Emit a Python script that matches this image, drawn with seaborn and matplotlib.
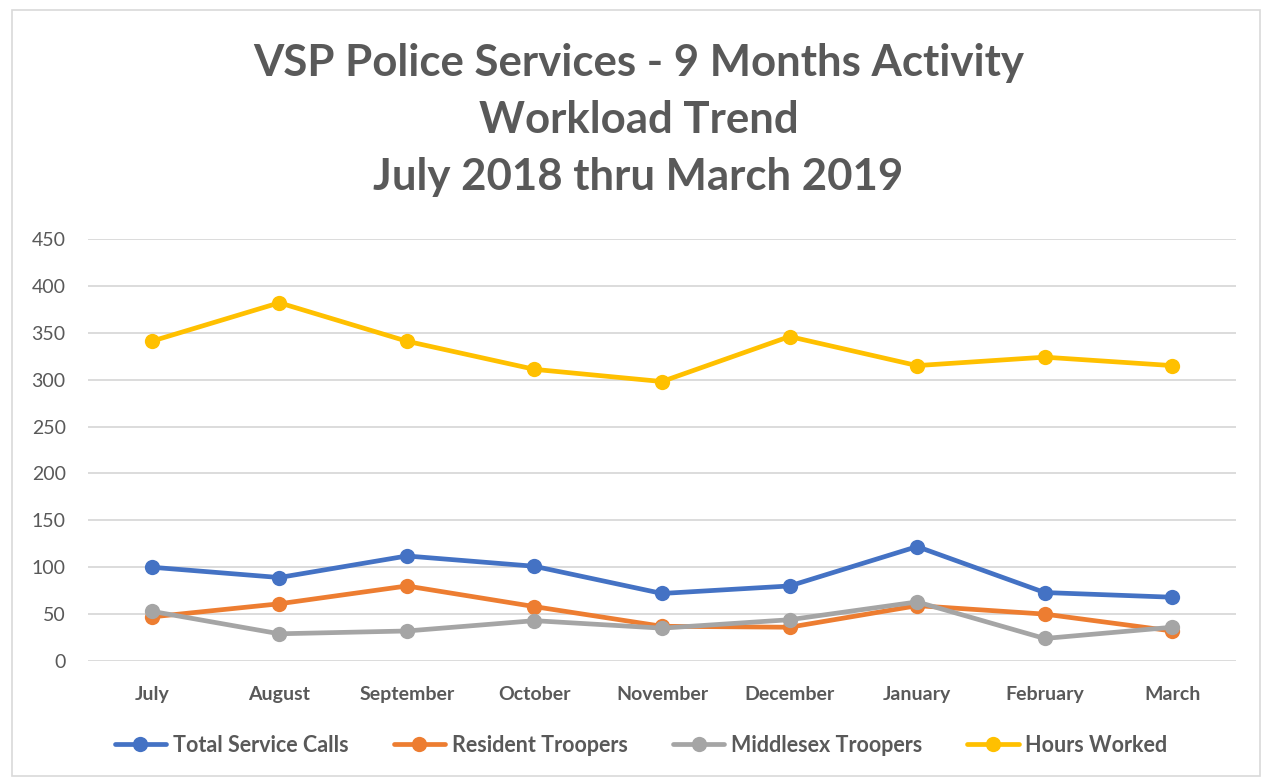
import matplotlib
matplotlib.use("Agg")
import matplotlib.pyplot as plt
import pandas as pd
import seaborn as sns
from matplotlib.patches import Rectangle

meses = ["July", "August", "September", "October", "November",
         "December", "January", "February", "March"]
total_service_calls = [100, 89, 112, 101, 72, 80, 122, 73, 68]
resident_troopers = [47, 61, 80, 58, 37, 36, 59, 50, 32]
middlesex_troopers = [53, 29, 32, 43, 35, 44, 63, 24, 36]
hours_worked = [341, 382, 341, 311, 298, 346, 315, 324, 315]

series = {
    "Total Service Calls": total_service_calls,
    "Resident Troopers": resident_troopers,
    "Middlesex Troopers": middlesex_troopers,
    "Hours Worked": hours_worked,
}
cores = ["#4472C4", "#ED7D31", "#A5A5A5", "#FFC000"]

df = pd.DataFrame([
    {"mes": m, "valor": v, "serie": nome}
    for nome, vals in series.items()
    for m, v in zip(meses, vals)
])

sns.set_style("white")
plt.rcParams["font.family"] = ["Lato", "DejaVu Sans"]
texto = "#595959"

fig = plt.figure(figsize=(12.62, 7.78), dpi=100)
ax = fig.add_axes([0.0697, 0.1504, 0.9097, 0.5424])

sns.lineplot(
    data=df, x="mes", y="valor", hue="serie", palette=cores,
    marker="o", markersize=11, markeredgewidth=0, linewidth=3.4,
    sort=False, ax=ax, legend=True,
)

ax.set_xlim(-0.5, 8.5)
ax.set_ylim(0, 450)
ax.set_yticks(range(0, 451, 50))
ax.grid(axis="y", color="#D9D9D9", linewidth=1.3)
ax.set_axisbelow(True)
for s in ax.spines.values():
    s.set_visible(False)
ax.tick_params(axis="both", length=0, labelsize=14, labelcolor=texto)
ax.tick_params(axis="x", pad=18)
ax.tick_params(axis="y", pad=16)
for lbl in ax.get_xticklabels():
    lbl.set_fontweight("bold")
ax.set_xlabel("")
ax.set_ylabel("")

handles, labels = ax.get_legend_handles_labels()
ax.get_legend().remove()
fig.legend(handles, labels, loc="center", bbox_to_anchor=(0.508, 0.042),
           ncol=4, frameon=False, handlelength=2.4, columnspacing=2.1,
           handletextpad=0.3, prop={"size": 15.5, "weight": "bold"},
           labelcolor=texto)

fig.text(0.506, 0.846, "VSP Police Services - 9 Months Activity\nWorkload Trend\nJuly 2018 thru March 2019",
         ha="center", va="center", fontsize=31.5, fontweight="bold",
         color=texto, linespacing=1.52)

fig.add_artist(Rectangle((12 / 1262, 2 / 778), 1248 / 1262, 766 / 778,
                         transform=fig.transFigure, fill=False,
                         edgecolor="#D9D9D9", linewidth=1.2))

fig.savefig("out.png", dpi=100)
